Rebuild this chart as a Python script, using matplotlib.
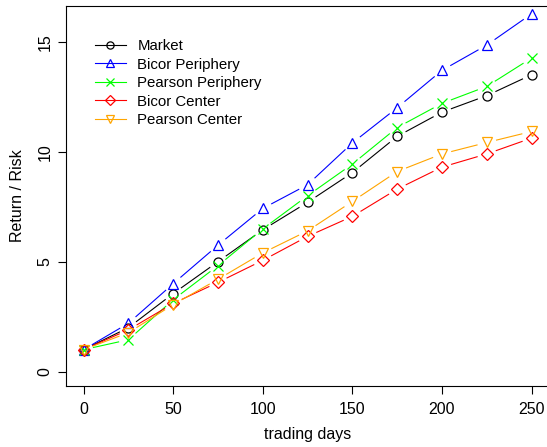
import matplotlib
matplotlib.use("Agg")
import matplotlib.pyplot as plt
import numpy as np

plt.rcParams['font.family'] = ['Liberation Sans', 'DejaVu Sans']

# Data
days = [0, 25, 50, 75, 100, 125, 150, 175, 200, 225, 250]
market = [1.0, 2.0, 3.55, 5.0, 6.45, 7.7, 9.05, 10.7, 11.8, 12.55, 13.5]
bicor_periphery = [1.0, 2.2, 4.0, 5.75, 7.42, 8.5, 10.4, 12.0, 13.7, 14.85, 16.27]
pearson_periphery = [1.0, 1.45, 3.27, 4.82, 6.49, 8.0, 9.44, 11.1, 12.2, 12.97, 14.26]
bicor_center = [1.0, 1.9, 3.1, 4.06, 5.06, 6.15, 7.06, 8.3, 9.3, 9.9, 10.62]
pearson_center = [1.0, 1.77, 3.05, 4.2, 5.4, 6.4, 7.74, 9.1, 9.9, 10.42, 10.92]

series = [
    ("Market", market, "black", "o"),
    ("Bicor Periphery", bicor_periphery, "#0000FF", "^"),
    ("Pearson Periphery", pearson_periphery, "#00FF00", "x"),
    ("Bicor Center", bicor_center, "#FF0000", "D"),
    ("Pearson Center", pearson_center, "#FFA500", "v"),
]
sizes = {"o": 6.5, "^": 7.5, "x": 6.5, "D": 6.0, "v": 7.5}


def gapped_line(ax, fig, x, y, color, gap=9.5):
    """Draw R style type='b' lines: segments stop short of the points."""
    fig.canvas.draw()
    pts = ax.transData.transform(np.column_stack([x, y]))
    inv = ax.transData.inverted()
    for p0, p1 in zip(pts[:-1], pts[1:]):
        d = p1 - p0
        n = np.hypot(*d)
        if n <= 2 * gap:
            continue
        u = d / n
        a = inv.transform(p0 + u * gap)
        b = inv.transform(p1 - u * gap)
        ax.plot([a[0], b[0]], [a[1], b[1]], color=color, lw=0.8,
                solid_capstyle='butt', scalex=False, scaley=False)


def main():
    fig = plt.figure(figsize=(5.47, 4.47), dpi=100)
    ax = fig.add_axes([65.7 / 547, 61.3 / 447, 483.8 / 547, 380 / 447])
    ax.set_xlim(-10, 260)
    ax.set_ylim(-0.64, 16.64)

    for name, vals, color, mk in series:
        gapped_line(ax, fig, days, vals, color)
        ax.plot(days, vals, linestyle='none', marker=mk, ms=sizes[mk],
                mfc='none', mec=color, mew=0.9, scalex=False, scaley=False)
        # legend proxy
        ax.plot([], [], color=color, lw=0.8, marker=mk, ms=sizes[mk] * 0.8,
                mfc='none', mec=color, mew=0.9, label=name)

    ax.set_xlim(-10, 260)
    ax.set_ylim(-0.64, 16.64)
    ax.set_xticks([0, 50, 100, 150, 200, 250])
    ax.set_yticks([0, 5, 10, 15])
    ax.tick_params(direction='out', length=5.5, width=0.8, labelsize=11.5,
                   pad=6)
    ax.tick_params(axis='y', pad=4)
    for lab in ax.get_yticklabels():
        lab.set_rotation(90)
        lab.set_va('center')
    for s in ax.spines.values():
        s.set_linewidth(0.8)

    ax.set_xlabel("trading days", fontsize=11.5)
    ax.set_ylabel("Return / Risk", fontsize=11.5)
    ax.xaxis.set_label_coords(0.5, -(435 - 385.7) / 380)
    ax.xaxis.label.set_va('center')
    ax.yaxis.set_label_coords(-(65.7 - 18) / 483.8, 0.5)
    ax.yaxis.label.set_va('center')

    ax.legend(loc='upper left', bbox_to_anchor=(0.06, 0.912), frameon=False,
              fontsize=10.8, handlelength=2.1, handletextpad=0.75,
              labelspacing=0.3, borderaxespad=0, borderpad=0)

    fig.savefig("out.png", dpi=100)


if __name__ == "__main__":
    main()
